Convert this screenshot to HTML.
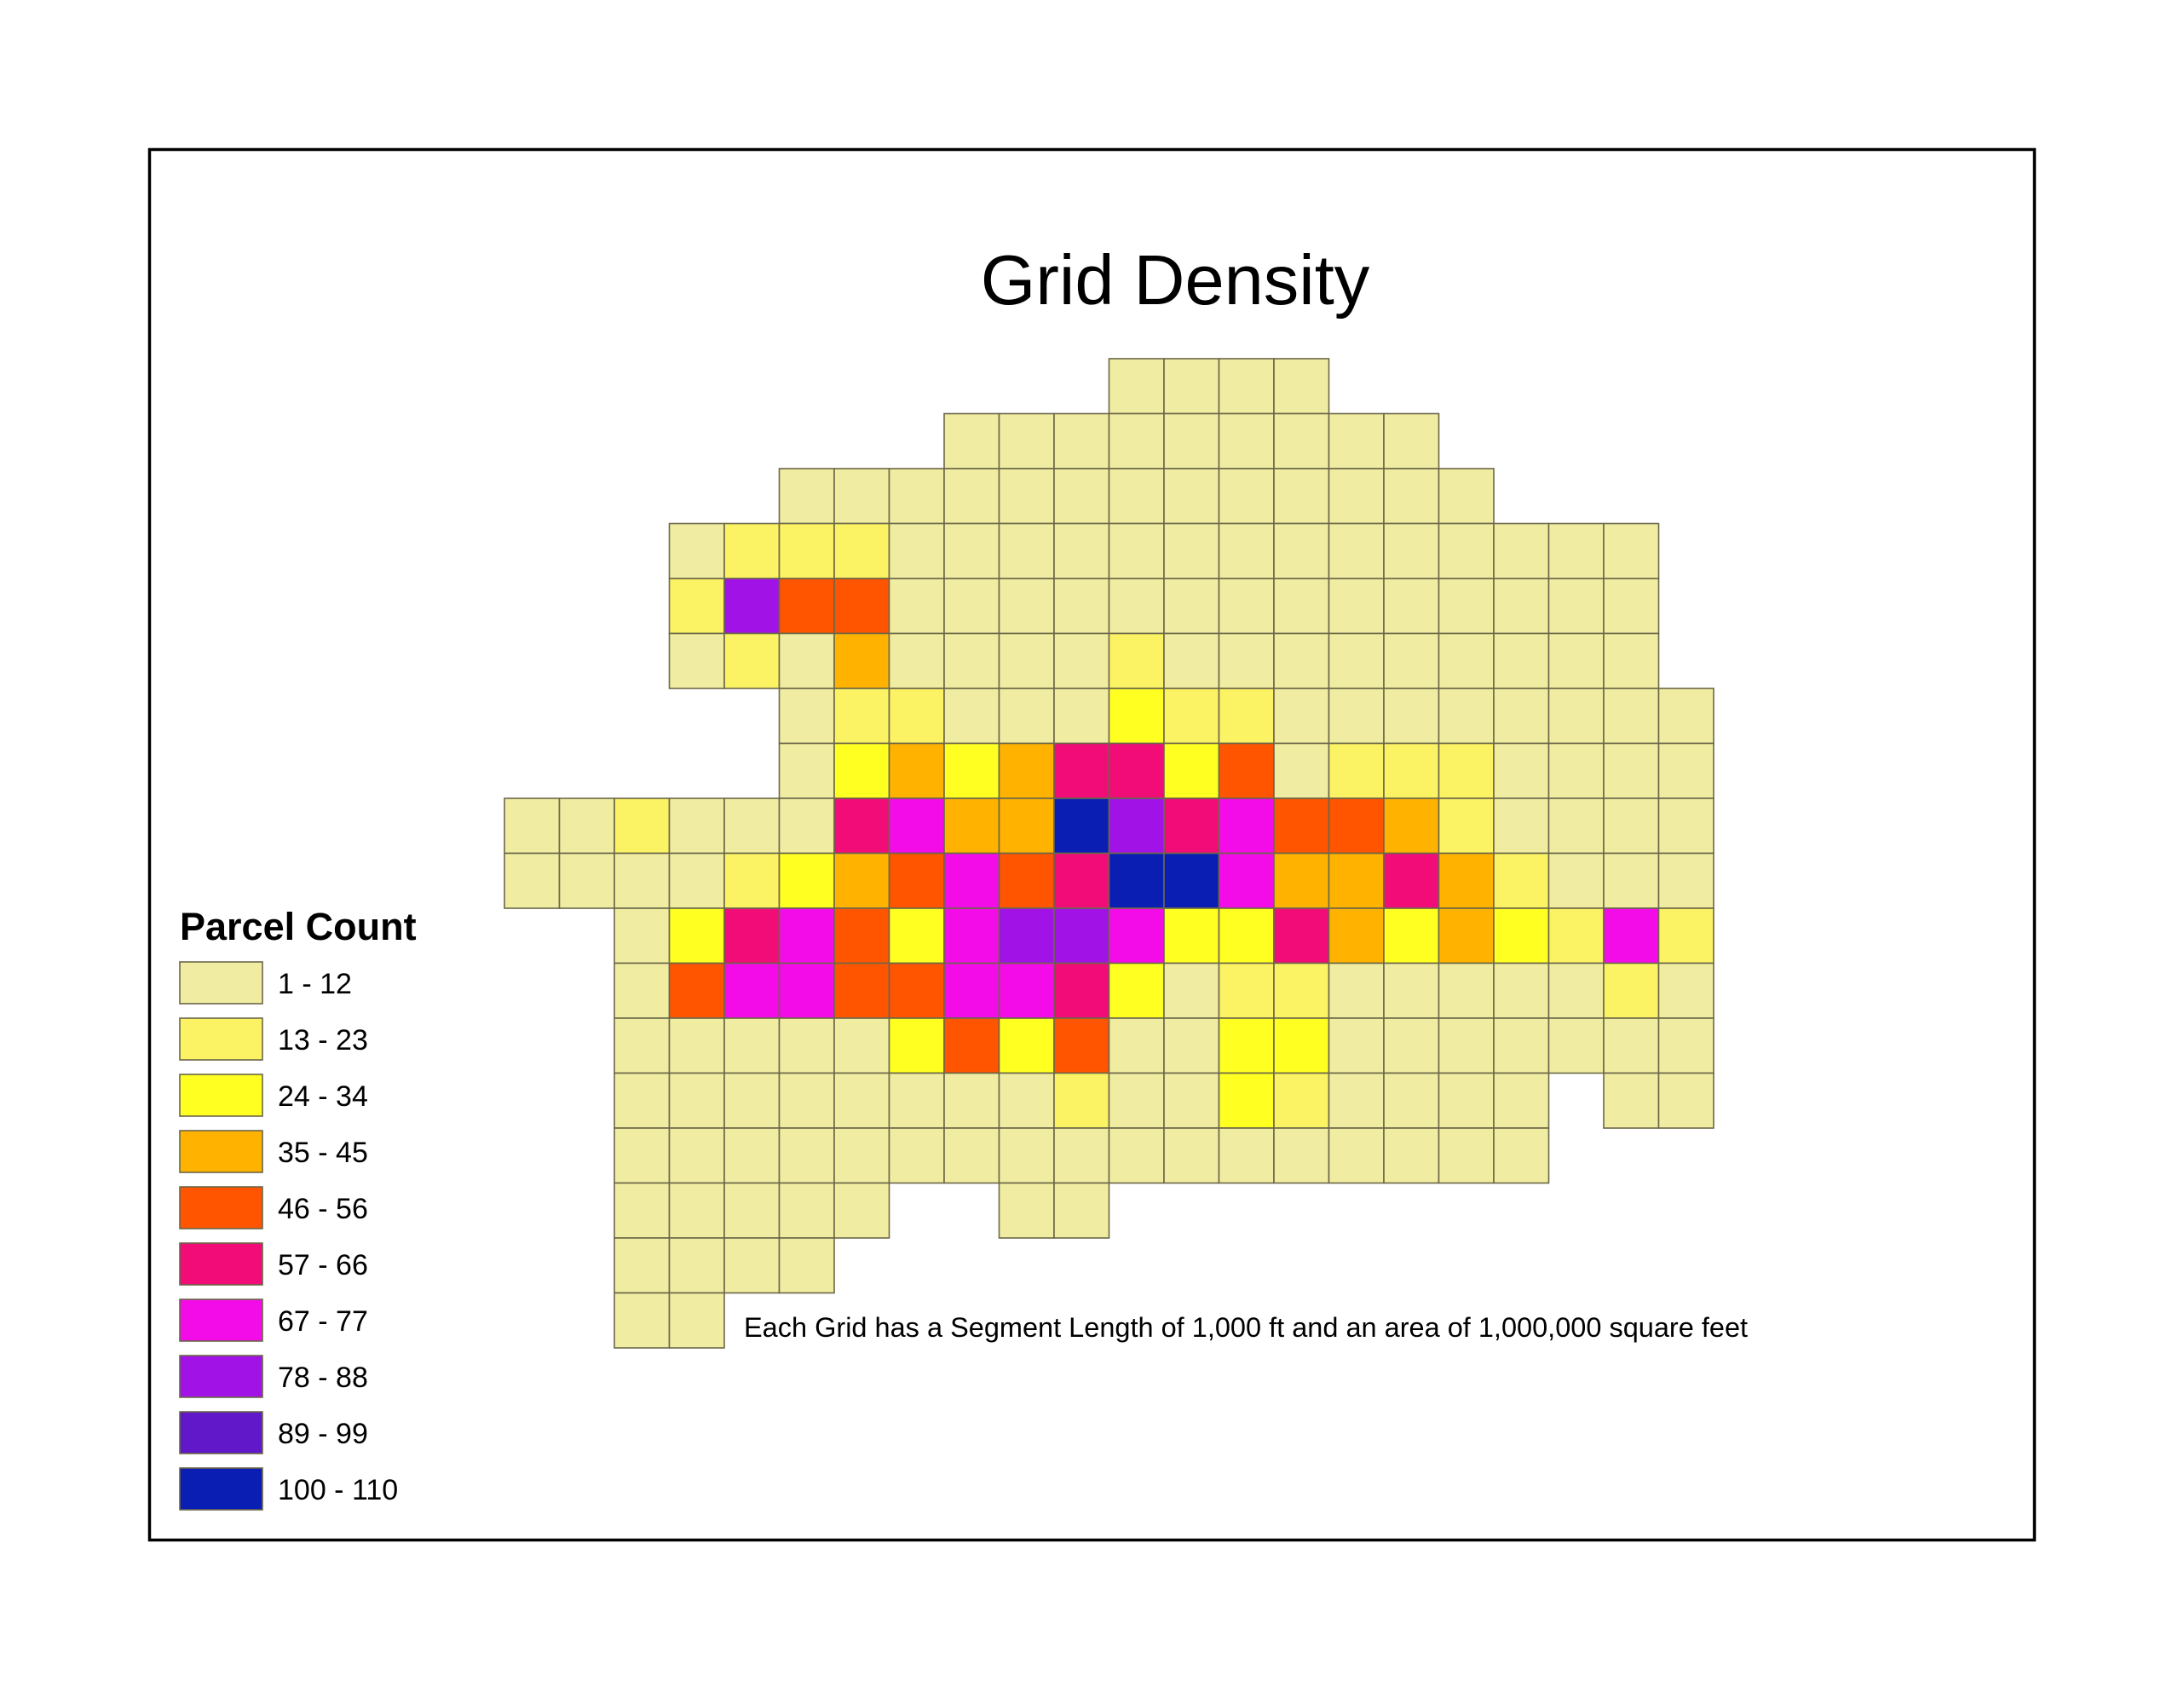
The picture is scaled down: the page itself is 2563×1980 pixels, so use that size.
<!DOCTYPE html>
<html><head><meta charset="utf-8"><style>
html,body{margin:0;padding:0;background:#fff;}
#wrap{position:relative;width:2563px;height:1980px;overflow:hidden;font-family:"Liberation Sans",Arial,sans-serif;}
</style></head><body><div id="wrap">
<svg id="s" width="2563" height="1980" xmlns="http://www.w3.org/2000/svg" style="position:absolute;left:0;top:0">
<rect x="175.5" y="175.5" width="2212" height="1632" fill="none" stroke="#000" stroke-width="3.5"/>
<text x="1379" y="357" font-family="Liberation Sans, Arial, sans-serif" font-size="83" text-anchor="middle" fill="#000">Grid Density</text>
<text x="211" y="1103" font-family="Liberation Sans, Arial, sans-serif" font-size="45" font-weight="bold" fill="#000">Parcel Count</text>
<text x="873" y="1569" font-family="Liberation Sans, Arial, sans-serif" font-size="32.5" fill="#000">Each Grid has a Segment Length of 1,000 ft and an area of 1,000,000 square feet</text>
<g id="g"></g>
<g id="lg"></g>
</svg>
<script>
var C={L:"#f0eda2",Y:"#fbf264",T:"#ffff22",O:"#ffb300",R:"#ff5500",P:"#f20c78",M:"#f40ce8",V:"#a012e6",I:"#6018c8",B:"#0a1eb4"};
var rows=[
[11,"LLLL"],
[8,"LLLLLLLLL"],
[5,"LLLLLLLLLLLLL"],
[3,"LYYYLLLLLLLLLLLLLL"],
[3,"YVRRLLLLLLLLLLLLLL"],
[3,"LYLOLLLLYLLLLLLLLL"],
[5,"LYYLLLTYYLLLLLLLL"],
[5,"LTOTOPPTRLYYYLLLL"],
[0,"LLYLLLPMOOBVPMRROYLLLL"],
[0,"LLLLYTORMRPBBMOOPOYLLL"],
[2,"LTPMRTMVVMTTPOTOTYMY"],
[2,"LRMMRRMMPTLYYLLLLLYL"],
[2,"LLLLLTRTRLLTTLLLLLLL"],
[2,"LLLLLLLLYLLTYLLLL.LL"],
[2,"LLLLLLLLLLLLLLLLL"],
[2,"LLLLL..LL"],
[2,"LLLL"],
[2,"LL"]];
var x0=592,y0=421,c=64.5,h="";
rows.forEach(function(r,i){var s=r[1];for(var j=0;j<s.length;j++){var k=s[j];if(k==".")continue;
h+='<rect x="'+(x0+(r[0]+j)*c)+'" y="'+(y0+i*c)+'" width="'+c+'" height="'+c+'" fill="'+C[k]+'" stroke="#6b6748" stroke-width="1.6"/>';}});
document.getElementById("g").innerHTML=h;
var lab=["1 - 12","13 - 23","24 - 34","35 - 45","46 - 56","57 - 66","67 - 77","78 - 88","89 - 99","100 - 110"];
var lc=["L","Y","T","O","R","P","M","V","I","B"],lh="";
for(var i=0;i<10;i++){var y=1129+i*66;
lh+='<rect x="211" y="'+y+'" width="97" height="49" fill="'+C[lc[i]]+'" stroke="#6b6748" stroke-width="1.6"/>';
lh+='<text x="326" y="'+(y+37)+'" font-family="Liberation Sans, Arial, sans-serif" font-size="34" fill="#000">'+lab[i]+'</text>';}
document.getElementById("lg").innerHTML=lh;
</script>
</div></body></html>
